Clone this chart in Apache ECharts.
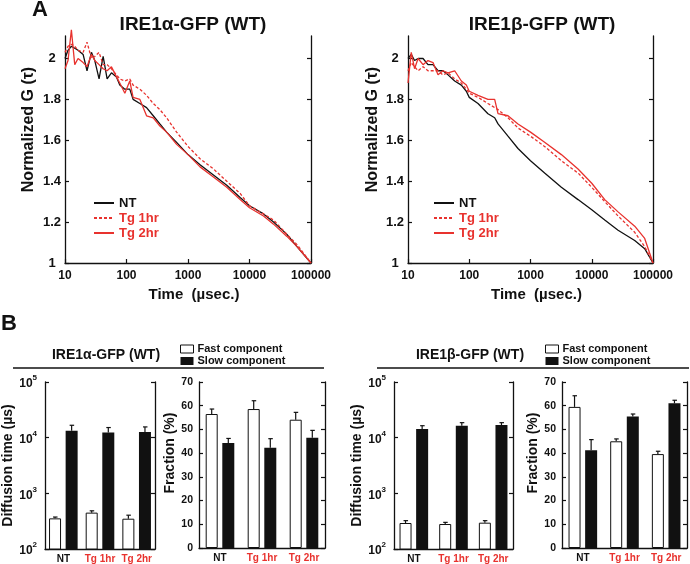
<!DOCTYPE html>
<html>
<head>
<meta charset="utf-8">
<script src="https://cdn.jsdelivr.net/npm/echarts@6/dist/echarts.min.js"></script>
<style>
  html, body { margin: 0; padding: 0; background: #fff; }
  #fig { width: 690px; height: 564px; }
</style>
</head>
<body>
<div id="fig"></div>
<script>
// ---- panel A: normalized autocorrelation curves ----
var timeA = [10, 11.2, 12.7, 14.4, 16.3, 19.7, 22.8, 26.9, 30.5, 35.8, 41.7, 48.4, 56.9, 68.7, 77.8, 94, 113, 128, 165, 212, 272, 349, 449, 653, 1000, 1570, 2590, 4270, 7040, 10000, 16900, 24600, 40600, 59200, 100000];
var ntA  = [2.00, 2.04, 2.06, 2.05, 2.04, 2.02, 1.94, 2.03, 1.99, 1.90, 2.01, 1.90, 1.93, 1.91, 1.87, 1.85, 1.85, 1.80, 1.78, 1.76, 1.72, 1.68, 1.64, 1.59, 1.53, 1.48, 1.43, 1.38, 1.32, 1.28, 1.24, 1.20, 1.14, 1.08, 1.00];
var tg1A = [2.03, 2.06, 2.07, 2.06, 2.04, 2.03, 2.08, 2.00, 2.01, 2.03, 1.97, 1.97, 1.95, 1.92, 1.90, 1.89, 1.90, 1.87, 1.85, 1.82, 1.78, 1.75, 1.71, 1.64, 1.57, 1.51, 1.46, 1.40, 1.34, 1.28, 1.24, 1.21, 1.14, 1.09, 1.00];
var tg2A = [1.95, 1.99, 2.14, 1.97, 2.00, 1.98, 1.96, 2.02, 1.99, 1.97, 1.95, 1.94, 1.96, 1.91, 1.88, 1.83, 1.89, 1.81, 1.80, 1.72, 1.71, 1.67, 1.64, 1.58, 1.53, 1.47, 1.42, 1.37, 1.31, 1.27, 1.23, 1.19, 1.13, 1.08, 1.00];

var timeB = [10, 11.3, 12.8, 14.6, 17.6, 21.2, 25.6, 30.9, 37.2, 45, 57.8, 74.3, 89.6, 100, 139, 202, 260, 295, 429, 625, 1000, 1700, 3190, 5970, 10000, 16300, 26900, 50300, 73200, 100000];
var ntB  = [2.00, 2.02, 1.99, 2.00, 2.00, 1.97, 1.97, 1.94, 1.94, 1.92, 1.89, 1.87, 1.84, 1.81, 1.78, 1.73, 1.71, 1.68, 1.62, 1.56, 1.50, 1.44, 1.37, 1.31, 1.26, 1.21, 1.16, 1.11, 1.07, 1.00];
var tg1B = [1.94, 1.98, 1.96, 1.94, 1.96, 1.94, 1.94, 1.94, 1.92, 1.93, 1.90, 1.88, 1.85, 1.83, 1.81, 1.78, 1.76, 1.75, 1.71, 1.66, 1.62, 1.57, 1.50, 1.44, 1.37, 1.30, 1.23, 1.15, 1.08, 1.00];
var tg2B = [1.88, 2.03, 1.95, 2.00, 1.97, 1.99, 1.98, 1.92, 1.94, 1.93, 1.94, 1.89, 1.87, 1.84, 1.82, 1.80, 1.80, 1.73, 1.72, 1.68, 1.64, 1.59, 1.53, 1.46, 1.39, 1.31, 1.25, 1.18, 1.12, 1.00];

var gTicks = [1, 1.2, 1.4, 1.6, 1.8, 2];

// ---- panel B: diffusion times and fractions ----
var conditions = ['NT', 'Tg 1hr', 'Tg 2hr'];

var diffFastA = [355, 450, 350];
var diffFastErrA = [20, 35, 55];
var diffSlowA = [13300, 12400, 12700];
var diffSlowErrA = [3400, 2800, 2900];
var fracFastA = [56.5, 58.6, 54.1];
var fracFastErrA = [2.1, 3.5, 3.1];
var fracSlowA = [44.3, 42.3, 46.5];
var fracSlowErrA = [1.9, 3.8, 3.1];

var diffFastB = [293, 281, 297];
var diffFastErrB = [30, 20, 26];
var diffSlowB = [14300, 16400, 16900];
var diffSlowErrB = [2100, 2200, 1700];
var fracFastB = [59.5, 45.0, 39.6];
var fracFastErrB = [4.7, 1.0, 1.2];
var fracSlowB = [41.2, 55.5, 61.0];
var fracSlowErrB = [4.5, 1.0, 1.3];

var RED = '#e8322e';
var INK = '#111';
var FONT = 'Liberation Sans, Arial, sans-serif';

var chart = echarts.init(document.getElementById('fig'));

var grids = [
  { left: 65,  top: 36,  width: 246, height: 227 },
  { left: 408, top: 36,  width: 245, height: 227 },
  { left: 43,  top: 382, width: 112, height: 167 },
  { left: 199, top: 382, width: 126, height: 166 },
  { left: 394, top: 382, width: 119, height: 167 },
  { left: 562, top: 382, width: 125, height: 166 }
];

var lineAxis = { lineStyle: { color: INK, width: 1.3 } };
var inTick = { show: true, inside: true, length: 4, lineStyle: { color: INK, width: 1.2 } };

function timeAxis(g) {
  return {
    type: 'log', gridIndex: g, logBase: 10, min: 10, max: 100000,
    axisLine: lineAxis, axisTick: inTick, splitLine: { show: false },
    minorTick: { show: false },
    axisLabel: { color: INK, fontFamily: FONT, fontWeight: 'bold', fontSize: 12, margin: 7,
      formatter: function (v) { return String(Math.round(v)); } },
    name: 'Time  (\u00b5sec.)', nameLocation: 'middle', nameGap: 24,
    nameTextStyle: { color: INK, fontFamily: FONT, fontWeight: 'bold', fontSize: 15, padding: [0, 0, 0, 12] }
  };
}
function gAxis(g, right, gap) {
  return {
    type: 'value', gridIndex: g, min: 1, max: 2.11, position: right ? 'right' : 'left',
    axisLine: { show: true, lineStyle: lineAxis.lineStyle },
    axisTick: Object.assign({ customValues: gTicks }, inTick),
    splitLine: { show: false },
    axisLabel: right ? { show: false } : { customValues: gTicks, color: INK, fontFamily: FONT,
      fontWeight: 'bold', fontSize: 13, align: 'center', margin: 13 },
    name: right ? '' : 'Normalized G (\u03c4)', nameLocation: 'middle', nameGap: gap,
    nameTextStyle: { color: INK, fontFamily: FONT, fontWeight: 'bold', fontSize: 16, padding: [0, 0, 0, 40] }
  };
}
function catAxis(g) {
  return {
    type: 'category', gridIndex: g,
    data: conditions.map(function (c) {
      return { value: c, textStyle: { color: c === 'NT' ? INK : RED } };
    }),
    axisLine: lineAxis, axisTick: { show: false },
    axisLabel: { interval: 0, fontFamily: FONT, fontWeight: 'bold', fontSize: 10, margin: 5 }
  };
}
function diffAxis(g, right, gap) {
  return {
    type: 'log', gridIndex: g, logBase: 10, min: 100, max: 100000, position: right ? 'right' : 'left',
    axisLine: { show: true, lineStyle: lineAxis.lineStyle }, axisTick: inTick,
    splitLine: { show: false }, minorTick: { show: false },
    axisLabel: right ? { show: false } : {
      margin: 8,
      formatter: function (v) { return '{b|10}{s|' + Math.round(Math.log10(v)) + '}'; },
      rich: {
        b: { fontFamily: FONT, fontWeight: 'bold', fontSize: 12, color: INK, lineHeight: 16, verticalAlign: 'bottom' },
        s: { fontFamily: FONT, fontWeight: 'bold', fontSize: 8, color: INK, lineHeight: 16, verticalAlign: 'top' }
      }
    },
    name: right ? '' : 'Diffusion time (\u00b5s)', nameLocation: 'middle', nameGap: gap,
    nameTextStyle: { color: INK, fontFamily: FONT, fontWeight: 'bold', fontSize: 14 }
  };
}
function fracAxis(g, right, gap) {
  return {
    type: 'value', gridIndex: g, min: 0, max: 70, interval: 10, position: right ? 'right' : 'left',
    axisLine: { show: true, lineStyle: lineAxis.lineStyle }, axisTick: inTick,
    splitLine: { show: false },
    axisLabel: right ? { show: false } : { color: INK, fontFamily: FONT, fontWeight: 'bold', fontSize: 10.5, margin: 6 },
    name: right ? '' : 'Fraction (%)', nameLocation: 'middle', nameGap: gap,
    nameTextStyle: { color: INK, fontFamily: FONT, fontWeight: 'bold', fontSize: 14, padding: [0, 0, 0, 24] }
  };
}

function curve(name, xs, ys, g, dashed, color) {
  return {
    name: name, type: 'line', xAxisIndex: g, yAxisIndex: 2 * g,
    data: xs.map(function (x, i) { return [x, ys[i]]; }),
    symbol: 'none', showSymbol: false, clip: false, animation: false,
    itemStyle: { color: color },
    lineStyle: { color: color, width: 1.3, type: dashed ? [3, 2] : 'solid' }
  };
}

var BAR_W = 12, BAR_GAP = 4.6;
function bars(name, vals, g, fast) {
  return {
    name: name, type: 'bar', xAxisIndex: g, yAxisIndex: 2 * g, data: vals,
    barWidth: BAR_W, barGap: (BAR_GAP / BAR_W * 100) + '%', animation: false,
    itemStyle: fast ? { color: '#fff', borderColor: INK, borderWidth: 1 } : { color: INK }
  };
}
function errs(vals, err, g, side) {
  return {
    name: 'err', type: 'custom', xAxisIndex: g, yAxisIndex: 2 * g, z: 3, animation: false,
    data: vals.map(function (v, i) { return [i, v, err[i]]; }),
    renderItem: function (params, api) {
      var i = api.value(0), v = api.value(1), e = api.value(2);
      var p0 = api.coord([i, v]);
      var p1 = api.coord([i, v + e]);
      var x = p0[0] + side * (BAR_W + BAR_GAP) / 2;
      var st = { stroke: INK, lineWidth: 1.2 };
      return { type: 'group', children: [
        { type: 'line', shape: { x1: x, y1: p0[1], x2: x, y2: p1[1] }, style: st },
        { type: 'line', shape: { x1: x - 2, y1: p1[1], x2: x + 2.5, y2: p1[1] }, style: st }
      ] };
    }
  };
}

function txt(x, y, s, size, align) {
  return { type: 'text', x: x, y: y, silent: true,
    style: { text: s, font: 'bold ' + size + 'px ' + FONT, fill: INK,
      align: align || 'left', textAlign: align || 'left', verticalAlign: 'middle', textVerticalAlign: 'middle' } };
}
function rule(x1, x2, y) {
  return { type: 'line', silent: true, shape: { x1: x1, y1: y, x2: x2, y2: y }, style: { stroke: INK, lineWidth: 1.5 } };
}

var legendLines = function (left) {
  return {
    orient: 'vertical', left: left, top: 196, padding: 0, itemWidth: 20, itemHeight: 10, itemGap: 1,
    itemStyle: { opacity: 0 },
    textStyle: { fontFamily: FONT, fontWeight: 'bold', fontSize: 13, lineHeight: 14 },
    data: [
      { name: 'NT', textStyle: { color: INK } },
      { name: 'Tg 1hr', textStyle: { color: RED } },
      { name: 'Tg 2hr', textStyle: { color: RED } }
    ]
  };
};
var legendBars = function (left) {
  return {
    orient: 'vertical', left: left, top: 343, padding: 0, itemWidth: 13, itemHeight: 8, itemGap: 0,
    icon: 'rect',
    textStyle: { fontFamily: FONT, fontWeight: 'bold', fontSize: 11, lineHeight: 12, color: INK, padding: [0, 0, 0, -1] },
    data: [
      { name: 'Fast component', itemStyle: { color: '#fff', borderColor: INK, borderWidth: 1 } },
      { name: 'Slow component', itemStyle: { color: INK } }
    ]
  };
};

var option = {
  backgroundColor: '#fff',
  animation: false,
  grid: grids,
  xAxis: [timeAxis(0), timeAxis(1), catAxis(2), catAxis(3), catAxis(4), catAxis(5)],
  yAxis: [
    gAxis(0, false, 28), gAxis(0, true),
    gAxis(1, false, 27), gAxis(1, true),
    diffAxis(2, false, 30), diffAxis(2, true),
    fracAxis(3, false, 10), fracAxis(3, true),
    diffAxis(4, false, 22), diffAxis(4, true),
    fracAxis(5, false, 14), fracAxis(5, true)
  ],
  legend: [legendLines(93), legendLines(433), legendBars(180), legendBars(545)],
  series: [
    curve('NT', timeA, ntA, 0, false, INK),
    curve('Tg 1hr', timeA, tg1A, 0, true, RED),
    curve('Tg 2hr', timeA, tg2A, 0, false, RED),
    curve('NT', timeB, ntB, 1, false, INK),
    curve('Tg 1hr', timeB, tg1B, 1, true, RED),
    curve('Tg 2hr', timeB, tg2B, 1, false, RED),

    bars('Fast component', diffFastA, 2, true), bars('Slow component', diffSlowA, 2, false),
    errs(diffFastA, diffFastErrA, 2, -1), errs(diffSlowA, diffSlowErrA, 2, 1),
    bars('Fast component', fracFastA, 3, true), bars('Slow component', fracSlowA, 3, false),
    errs(fracFastA, fracFastErrA, 3, -1), errs(fracSlowA, fracSlowErrA, 3, 1),
    bars('Fast component', diffFastB, 4, true), bars('Slow component', diffSlowB, 4, false),
    errs(diffFastB, diffFastErrB, 4, -1), errs(diffSlowB, diffSlowErrB, 4, 1),
    bars('Fast component', fracFastB, 5, true), bars('Slow component', fracSlowB, 5, false),
    errs(fracFastB, fracFastErrB, 5, -1), errs(fracSlowB, fracSlowErrB, 5, 1)
  ],
  graphic: [
    txt(32, 10, 'A', 22),
    txt(1, 324, 'B', 22),
    txt(193, 25, 'IRE1\u03b1-GFP (WT)', 19, 'center'),
    txt(542, 25, 'IRE1\u03b2-GFP (WT)', 19, 'center'),
    txt(106, 355, 'IRE1\u03b1-GFP (WT)', 14, 'center'),
    txt(470, 355, 'IRE1\u03b2-GFP (WT)', 14, 'center'),
    rule(13, 324, 368),
    rule(377, 689, 368)
  ]
};

chart.setOption(option);
</script>
</body>
</html>
